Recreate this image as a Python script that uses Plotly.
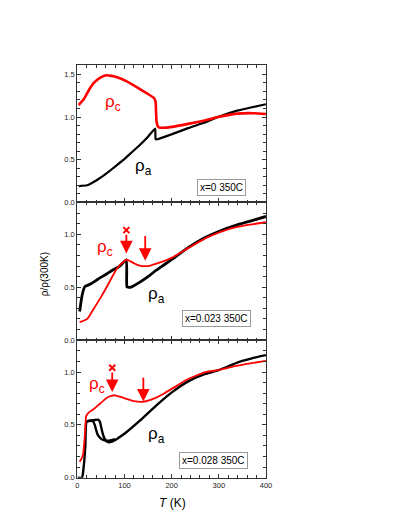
import plotly.graph_objects as go

# ---- panel 1: x=0 350C ----
t_c1 = [3, 14, 25, 35, 48, 62, 83, 104, 132, 150, 163, 166, 167, 168, 170, 173, 180, 201, 235, 270, 298, 339, 374, 400]
r_c1 = [1.14, 1.21, 1.32, 1.40, 1.46, 1.49, 1.47, 1.42, 1.33, 1.27, 1.22, 1.18, 1.05, 0.95, 0.90, 0.88, 0.875, 0.885, 0.92, 0.96, 1.0, 1.04, 1.045, 1.036]
t_a1 = [3, 21, 30, 41, 62, 80, 97, 115, 132, 150, 165, 166, 170, 201, 235, 270, 298, 339, 370, 400]
r_a1 = [0.19, 0.20, 0.225, 0.26, 0.34, 0.42, 0.495, 0.585, 0.67, 0.77, 0.865, 0.74, 0.74, 0.80, 0.87, 0.935, 1.0, 1.075, 1.115, 1.15]

# ---- panel 2: x=0.023 350C ----
t_c2 = [5, 12, 21, 30, 41, 52, 62, 73, 83, 95, 105, 113, 121, 132, 144, 155, 166, 185, 201, 235, 270, 301, 339, 370, 400]
r_c2 = [0.17, 0.18, 0.20, 0.26, 0.34, 0.42, 0.50, 0.59, 0.67, 0.73, 0.76, 0.745, 0.725, 0.705, 0.70, 0.705, 0.72, 0.75, 0.78, 0.87, 0.96, 1.02, 1.07, 1.095, 1.115]
t_a2 = [5, 10, 16, 28, 45, 62, 76, 90, 104, 105, 108, 114, 122, 132, 150, 166, 185, 201, 235, 270, 301, 339, 370, 400]
r_a2 = [0.27, 0.42, 0.505, 0.53, 0.58, 0.625, 0.665, 0.70, 0.76, 0.505, 0.50, 0.50, 0.52, 0.546, 0.60, 0.656, 0.715, 0.765, 0.874, 0.968, 1.03, 1.09, 1.13, 1.17]

# ---- panel 3: x=0.028 350C ----
t_c3 = [5, 9, 12.5, 16, 18.7, 25, 35, 48, 62, 72, 80, 92, 104, 120, 138, 150, 166, 185, 201, 235, 270, 301, 339, 370, 400]
r_c3 = [0.15, 0.18, 0.225, 0.40, 0.58, 0.62, 0.65, 0.70, 0.755, 0.775, 0.78, 0.765, 0.746, 0.725, 0.718, 0.73, 0.756, 0.80, 0.843, 0.934, 0.997, 1.02, 1.06, 1.085, 1.106]
t_a3w = [1, 10, 13, 17, 19.4, 25, 35, 44, 48, 51, 55, 59, 63, 68, 76, 90, 104, 132, 166, 201, 235, 270, 301, 339, 370, 400]
r_a3w = [0.0, 0.0, 0.08, 0.30, 0.53, 0.54, 0.545, 0.55, 0.53, 0.47, 0.40, 0.36, 0.34, 0.335, 0.345, 0.385, 0.43, 0.537, 0.678, 0.81, 0.912, 0.98, 1.02, 1.09, 1.13, 1.16]
t_a3c = [19.4, 25, 30, 34, 37, 40, 44, 50, 56, 64, 72, 80]
r_a3c = [0.53, 0.535, 0.54, 0.53, 0.50, 0.45, 0.40, 0.37, 0.355, 0.35, 0.355, 0.365]

# arrows (T, top, head) and labels
arrows2 = [(104, 1.01, 0.82), (144, 1.0, 0.75)]
arrows3 = [(74, 1.01, 0.81), (140, 0.96, 0.72)]
crosses = {2: (104, 1.04), 3: (74, 1.04)}
labels = {1: [(75, 1.17, 'ρ<sub>c</sub>', 'red'), (141, 0.42, 'ρ<sub>a</sub>', 'black')],
          2: [(58, 0.87, 'ρ<sub>c</sub>', 'red'), (168, 0.43, 'ρ<sub>a</sub>', 'black')],
          3: [(42, 0.88, 'ρ<sub>c</sub>', 'red'), (168, 0.40, 'ρ<sub>a</sub>', 'black')]}
boxes = {1: (305, 0.18, 'x=0 350C'), 2: (295, 0.20, 'x=0.023 350C'), 3: (288, 0.16, 'x=0.028 350C')}

# page body has an 8px margin, so everything is placed 8px up/left of the reference
OFF = 8
W, H = 393, 513
x0, x1 = (76.7 - OFF) / W, (269.3 - OFF) / W
edges = [65.7, 204.3, 343.3, 482.3]
doms = [[1 - (edges[i + 1] - OFF) / H, 1 - (edges[i] - OFF) / H] for i in range(3)]
yr = [[0, 1.608], [0, 1.303], [0, 1.303]]

fig = go.Figure()
series = [
    (1, t_a1, r_a1, 'black', 2.2),
    (1, t_c1, r_c1, 'red', 2.6),
    (2, t_a2, r_a2, 'black', 2.8),
    (2, t_c2, r_c2, 'red', 1.8),
    (3, t_a3w, r_a3w, 'black', 2.4),
    (3, t_a3c, r_a3c, 'black', 2.4),
    (3, t_c3, r_c3, 'red', 1.8),
]
for p, t, r, col, w in series:
    sfx = '' if p == 1 else str(p)
    fig.add_trace(go.Scatter(x=t, y=r, mode='lines', xaxis='x' + sfx, yaxis='y' + sfx,
                             line=dict(color=col, width=w, shape='spline', smoothing=0.4),
                             showlegend=False, hoverinfo='skip'))

for p, (tx, ty) in crosses.items():
    fig.add_trace(go.Scatter(x=[tx], y=[ty], mode='markers', xaxis='x' + str(p), yaxis='y' + str(p),
                             marker=dict(symbol='x-thin', size=6, line=dict(color='red', width=2)),
                             showlegend=False, hoverinfo='skip'))

ann = []
for p, arrs in ((2, arrows2), (3, arrows3)):
    for t, top, head in arrs:
        ann.append(dict(x=t, y=head, ax=t, ay=top, xref='x' + str(p), yref='y' + str(p),
                        axref='x' + str(p), ayref='y' + str(p), text='', showarrow=True,
                        arrowhead=2, arrowsize=1.4, arrowwidth=1.8, arrowcolor='red'))
for p, labs in labels.items():
    sfx = '' if p == 1 else str(p)
    for t, v, txt, col in labs:
        ann.append(dict(x=t, y=v, xref='x' + sfx, yref='y' + sfx, text=txt, showarrow=False,
                        xanchor='center', yanchor='middle',
                        font=dict(size=17, color=col, family='Liberation Sans')))
for p, (t, v, txt) in boxes.items():
    sfx = '' if p == 1 else str(p)
    ann.append(dict(x=t, y=v, xref='x' + sfx, yref='y' + sfx, text=txt, showarrow=False,
                    xanchor='center', yanchor='middle',
                    bgcolor='white', bordercolor='#999999', borderwidth=1, borderpad=2,
                    font=dict(size=10, color='black', family='Liberation Sans')))
ann.append(dict(x=(43.5 - OFF) / W, y=1 - (277 - OFF) / H, xref='paper', yref='paper', text='ρ/ρ(300K)',
                xanchor='center', yanchor='middle', textangle=-90, showarrow=False,
                font=dict(size=10, color='black', family='Liberation Sans')))
ann.append(dict(x=(174 - OFF) / W, y=1 - (508 - OFF) / H, xref='paper', yref='paper', text='<i>T</i> (K)',
                xanchor='center', yanchor='middle', showarrow=False,
                font=dict(size=12, color='black', family='Liberation Sans')))

axis_common = dict(showline=True, linecolor='#333333', linewidth=1, mirror='ticks', ticks='inside',
                   ticklen=4, tickcolor='#333333', showgrid=False, zeroline=False,
                   tickfont=dict(size=7.5, color='#222222', family='Liberation Sans'))
layout = dict(width=W, height=H, margin=dict(l=0, r=0, t=0, b=0),
              plot_bgcolor='white', paper_bgcolor='white', annotations=ann)
for i in range(3):
    p = i + 1
    sfx = '' if p == 1 else str(p)
    layout['xaxis' + sfx] = dict(axis_common, domain=[x0, x1], range=[0, 400], dtick=100,
                                 anchor='y' + sfx, showticklabels=(p == 3),
                                 minor=dict(dtick=20, ticks='inside', ticklen=2.5, tickcolor='#333333'))
    layout['yaxis' + sfx] = dict(axis_common, domain=doms[i], range=yr[i], dtick=0.5,
                                 tickformat='.1f', anchor='x' + sfx,
                                 minor=dict(dtick=0.1, ticks='inside', ticklen=2.5, tickcolor='#333333'))
fig.update_layout(**layout)
fig.write_html("out.html")
